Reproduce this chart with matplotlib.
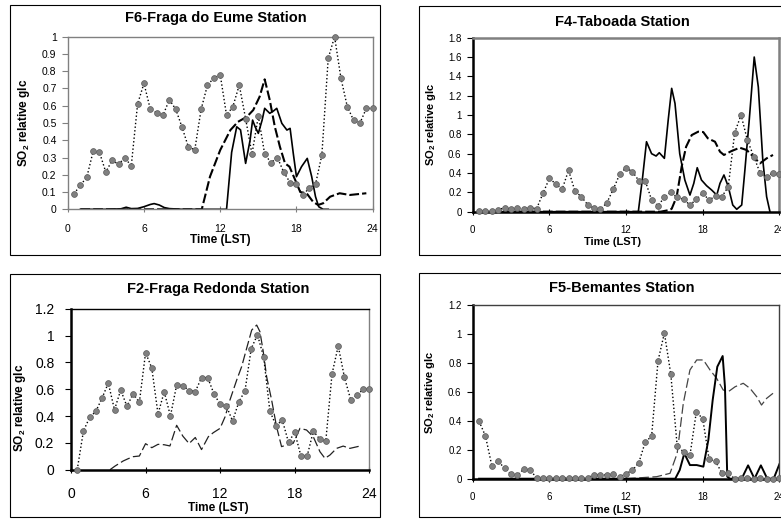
import numpy as np
import matplotlib
matplotlib.use("Agg")
import matplotlib.pyplot as plt
from matplotlib.patches import Rectangle

plt.rcParams['font.family'] = ['Liberation Sans', 'DejaVu Sans']
plt.rcParams['mathtext.fontset'] = 'custom'
plt.rcParams['mathtext.rm'] = 'Liberation Sans'
plt.rcParams['mathtext.bf'] = 'Liberation Sans:bold'
plt.rcParams['lines.scale_dashes'] = False

W, H = 781, 520

# half-hourly observations (0.5 .. 24 h)
hours = np.arange(0.5, 24.01, 0.5)

# F6 - Fraga do Eume
f6_obs = [0.09, 0.14, 0.185, 0.335, 0.33, 0.215, 0.285, 0.26, 0.30, 0.25,
          0.61, 0.73, 0.58, 0.56, 0.545, 0.635, 0.58, 0.475, 0.36, 0.345,
          0.58, 0.72, 0.76, 0.78, 0.545, 0.595, 0.72, 0.525, 0.32, 0.54,
          0.32, 0.27, 0.30, 0.215, 0.155, 0.145, 0.08, 0.125, 0.145, 0.315,
          0.875, 1.0, 0.76, 0.595, 0.515, 0.50, 0.585, 0.585]
f6_sol_t = [1, 3, 4.2, 4.6, 5.0, 5.5, 6.0, 6.5, 6.8, 7.2, 7.6, 8.0, 9, 10, 11, 12,
            12.5, 12.9, 13.3, 13.6, 14.0, 14.35, 14.55, 14.75, 15.0, 15.3, 15.5,
            15.9, 16.2, 16.45, 16.85, 17.25, 17.5, 17.75, 18.0, 18.4, 18.85, 19.2,
            19.5, 19.75, 20.1, 20.5]
f6_sol = [0, 0, 0.003, 0.012, 0.004, 0.005, 0.015, 0.028, 0.033, 0.025, 0.01, 0.004,
          0, 0, 0, 0, 0, 0.33, 0.478, 0.46, 0.266, 0.40, 0.517, 0.478, 0.44, 0.517,
          0.585, 0.556, 0.57, 0.585, 0.498, 0.459, 0.469, 0.324, 0.189, 0.247, 0.295,
          0.189, 0.073, 0.015, 0.0, 0.0]
f6_dash_t = [1, 10.55, 11.2, 12.0, 12.8, 13.4, 14.1, 14.6, 15.1, 15.5, 15.9, 16.3,
             16.7, 17.1, 17.45, 17.9, 18.3, 18.8, 19.3, 19.7, 20.1, 20.65, 21.4,
             22.2, 23.5]
f6_dash = [0, 0, 0.19, 0.343, 0.459, 0.507, 0.536, 0.575, 0.652, 0.753, 0.633,
           0.478, 0.362, 0.266, 0.247, 0.17, 0.10, 0.093, 0.044, 0.025, 0.035,
           0.073, 0.093, 0.083, 0.093]

# F4 - Taboada
f4_obs = [0.004, 0.004, 0.004, 0.021, 0.041, 0.025, 0.038, 0.031, 0.041, 0.031,
          0.19, 0.345, 0.287, 0.232, 0.428, 0.214, 0.155, 0.072, 0.035, 0.025,
          0.093, 0.232, 0.387, 0.455, 0.414, 0.321, 0.321, 0.121, 0.062, 0.149,
          0.2, 0.149, 0.128, 0.069, 0.128, 0.19, 0.121, 0.162, 0.155, 0.259,
          0.817, 1.0, 0.738, 0.569, 0.397, 0.362, 0.403, 0.387]
f4_sol_t = [0.5, 12.96, 13.3, 13.6, 14.0, 14.35, 14.6, 15.0, 15.3, 15.57, 15.83,
            16.2, 16.6, 17.0, 17.3, 17.57, 17.9, 18.3, 18.7, 19.1, 19.35, 19.66,
            20.0, 20.35, 20.66, 21.05, 21.3, 21.64, 22.03, 22.35, 22.7, 23.0, 23.26]
f4_sol = [0, 0, 0.362, 0.724, 0.60, 0.576, 0.61, 0.552, 0.95, 1.276, 1.12, 0.60,
          0.328, 0.172, 0.293, 0.455, 0.328, 0.269, 0.224, 0.172, 0.293, 0.38,
          0.259, 0.069, 0.025, 0.069, 0.431, 0.948, 1.6, 1.29, 0.535, 0.155, 0.0]
f4_dash_t = [0.5, 14.7, 15.4, 15.57, 15.96, 16.35, 16.7, 17.14, 17.65, 18.04, 18.4,
             18.96, 19.35, 19.66, 20.26, 20.9, 21.44, 21.96, 22.48, 23.0, 23.5]
f4_dash = [0, 0, 0.018, 0.03, 0.155, 0.465, 0.672, 0.793, 0.828, 0.824, 0.759,
           0.724, 0.621, 0.587, 0.628, 0.662, 0.638, 0.569, 0.50, 0.552, 0.587]

# F2 - Fraga Redonda
f2_obs = [0.0, 0.288, 0.39, 0.435, 0.534, 0.646, 0.447, 0.594, 0.472, 0.566,
          0.502, 0.872, 0.758, 0.415, 0.581, 0.40, 0.631, 0.626, 0.59, 0.582,
          0.686, 0.686, 0.566, 0.487, 0.475, 0.363, 0.504, 0.589, 0.902, 1.006,
          0.84, 0.437, 0.328, 0.37, 0.204, 0.279, 0.102, 0.102, 0.288, 0.229,
          0.214, 0.713, 0.922, 0.689, 0.522, 0.554, 0.599, 0.604]
f2_dash_t = [3.14, 3.54, 4.2, 4.6, 5.0, 5.5, 6.0, 6.5, 7.0, 7.5, 7.96, 8.5, 9.0,
             9.5, 10.0, 10.5, 11.05, 11.45, 11.99, 12.4, 12.79, 13.33, 13.73,
             14.13, 14.54, 14.94, 15.2, 15.47, 15.74, 16.14, 16.54, 16.94, 17.35,
             17.88, 18.42, 18.95, 19.49, 20.03, 20.43, 20.83, 21.37, 21.9, 22.44,
             23.24]
f2_dash = [0, 0.027, 0.065, 0.082, 0.097, 0.102, 0.194, 0.164, 0.189, 0.186,
           0.177, 0.331, 0.25, 0.195, 0.24, 0.15, 0.246, 0.276, 0.308, 0.395,
           0.52, 0.668, 0.768, 0.904, 1.041, 1.078, 1.029, 0.879, 0.693, 0.52,
           0.32, 0.172, 0.184, 0.197, 0.308, 0.296, 0.246, 0.134, 0.085, 0.109,
           0.159, 0.176, 0.159, 0.176]

# F5 - Bemantes
f5_obs = [0.396, 0.294, 0.088, 0.12, 0.072, 0.032, 0.023, 0.067, 0.058, 0.007,
          0.004, 0.004, 0.004, 0.004, 0.004, 0.004, 0.004, 0.004, 0.028, 0.023,
          0.028, 0.03, 0.012, 0.035, 0.058, 0.11, 0.253, 0.292, 0.812, 1.005,
          0.722, 0.228, 0.184, 0.161, 0.46, 0.414, 0.134, 0.12, 0.039, 0.039,
          0.0, 0.002, 0.007, 0.0, 0.007, 0.0, 0.0, 0.005]
f5_sol_t = [0.5, 15.7, 15.85, 16.2, 16.56, 17.0, 17.53, 18.05, 18.44, 18.78, 19.14,
            19.56, 19.74, 19.92, 20.13, 21.05, 21.55, 22.05, 22.55, 23.05, 23.55, 24.0]
f5_sol = [0, 0, 0, 0.06, 0.175, 0.094, 0.094, 0.083, 0.267, 0.543, 0.772, 0.846,
          0.634, 0.014, 0, 0, 0.092, 0, 0.092, 0, 0, 0.1]
f5_dash_t = [12.0, 14.4, 15.44, 16.0, 16.48, 17.0, 17.53, 18.05, 18.57, 19.09,
             19.6, 20.0, 20.53, 21.17, 21.7, 22.22, 22.6, 23.0, 23.5]
f5_dash = [0, 0.014, 0.037, 0.175, 0.52, 0.75, 0.819, 0.819, 0.75, 0.692, 0.612,
           0.60, 0.634, 0.658, 0.623, 0.566, 0.508, 0.554, 0.589]

xticks = [0, 6, 12, 18, 24]
ylabel = r'SO$_\mathbf{2}$ relative glc'

fig = plt.figure(figsize=(W / 100, H / 100), dpi=100)


def px_axes(x0, y0, x1, y1):
    return fig.add_axes([x0 / W, 1 - y1 / H, (x1 - x0) / W, (y1 - y0) / H])


def box(x0, y0, x1, y1):
    fig.patches.append(Rectangle((x0 / W, 1 - y1 / H), (x1 - x0) / W, (y1 - y0) / H,
                                 transform=fig.transFigure, fill=False,
                                 edgecolor='black', linewidth=0.8, clip_on=False))


def ftext(x, y, s, **kw):
    fig.text(x / W, 1 - y / H, s, ha='center', va='center', **kw)


def obs_line(ax, vals):
    ax.plot(hours, vals, linestyle=':', color='black', linewidth=1.0,
            marker='o', markersize=4.2, markerfacecolor='#808080',
            markeredgecolor='#5a5a5a', markeredgewidth=0.5, clip_on=False, zorder=4)


def style_axes(ax, ymax, ystep, fs, xpad, ypad, left_col, top_col, right_col, lw_lb, lw_tr):
    ax.set_xlim(0, 24)
    ax.set_ylim(0, ymax)
    ax.set_xticks(xticks)
    yt = np.round(np.arange(0, ymax + 1e-6, ystep), 2)
    ax.set_yticks(yt)
    ax.set_yticklabels(['%g' % v for v in yt])
    ax.tick_params(axis='x', direction='inout', length=5, width=0.8, color=left_col,
                   labelsize=fs, pad=xpad)
    ax.tick_params(axis='y', direction='out', length=4, width=0.8, color=left_col,
                   labelsize=fs, pad=ypad)
    ax.spines['left'].set_color(left_col)
    ax.spines['bottom'].set_color(left_col)
    ax.spines['left'].set_linewidth(lw_lb)
    ax.spines['bottom'].set_linewidth(lw_lb)
    ax.spines['top'].set_color(top_col)
    ax.spines['right'].set_color(right_col)
    ax.spines['top'].set_linewidth(lw_tr)
    ax.spines['right'].set_linewidth(lw_tr)
    ax.set_facecolor('none')


# ---- F6 (top left)
box(10, 5, 380, 255)
ax1 = px_axes(67.7, 36.7, 372.7, 209.3)
style_axes(ax1, 1.0, 0.1, 7.5, 8, 4, '#808080', '#808080', '#808080', 1.0, 1.0)
l, = ax1.plot(f6_dash_t, f6_dash, color='black', linewidth=1.5)
l.set_dashes((7, 2.2))
ax1.plot(f6_sol_t, f6_sol, color='black', linewidth=1.2)
obs_line(ax1, f6_obs)
ftext(216, 18, 'F6-Fraga do Eume Station', fontsize=10.5, fontweight='bold')
ftext(24, 123, ylabel, fontsize=8.5, fontweight='bold', rotation=90)
ftext(220, 240, 'Time (LST)', fontsize=8.5, fontweight='bold')

# ---- F4 (top right)
box(419, 6, 840, 255)
ax2 = px_axes(472.7, 37.7, 779.4, 211.7)
style_axes(ax2, 1.8, 0.2, 7, 7, 4, 'black', '#808080', '#808080', 1.8, 1.8)
l, = ax2.plot(f4_dash_t, f4_dash, color='black', linewidth=1.5)
l.set_dashes((7, 2.2))
ax2.plot(f4_sol_t, f4_sol, color='black', linewidth=1.2)
obs_line(ax2, f4_obs)
ftext(622, 22, 'F4-Taboada Station', fontsize=10.5, fontweight='bold')
ftext(431, 124, ylabel, fontsize=8, fontweight='bold', rotation=90)
ftext(613, 242, 'Time (LST)', fontsize=8, fontweight='bold')

# ---- F2 (bottom left)
box(10, 274, 380, 517)
ax3 = px_axes(71, 308.7, 369.3, 469.7)
style_axes(ax3, 1.2, 0.2, 10, 10, 8, 'black', 'black', '#808080', 1.8, 1.0)
l, = ax3.plot(f2_dash_t, f2_dash, color='#222222', linewidth=0.9)
l.set_dashes((7, 2.5))
obs_line(ax3, f2_obs)
ftext(218, 289, 'F2-Fraga Redonda Station', fontsize=10.5, fontweight='bold')
ftext(20, 408, ylabel, fontsize=8.5, fontweight='bold', rotation=90)
ftext(218, 508, 'Time (LST)', fontsize=8.5, fontweight='bold')

# ---- F5 (bottom right)
box(419, 273, 840, 517)
ax4 = px_axes(472.7, 304.7, 779.4, 478.7)
style_axes(ax4, 1.2, 0.2, 7, 7, 4, 'black', '#404040', '#404040', 1.8, 1.0)
l, = ax4.plot(f5_dash_t, f5_dash, color='#444444', linewidth=0.9)
l.set_dashes((7, 2.5))
ax4.plot(f5_sol_t, f5_sol, color='black', linewidth=1.4)
obs_line(ax4, f5_obs)
ftext(622, 288, 'F5-Bemantes Station', fontsize=10.5, fontweight='bold')
ftext(430, 392, ylabel, fontsize=8, fontweight='bold', rotation=90)
ftext(613, 510, 'Time (LST)', fontsize=8, fontweight='bold')

fig.savefig('out.png', dpi=100)
